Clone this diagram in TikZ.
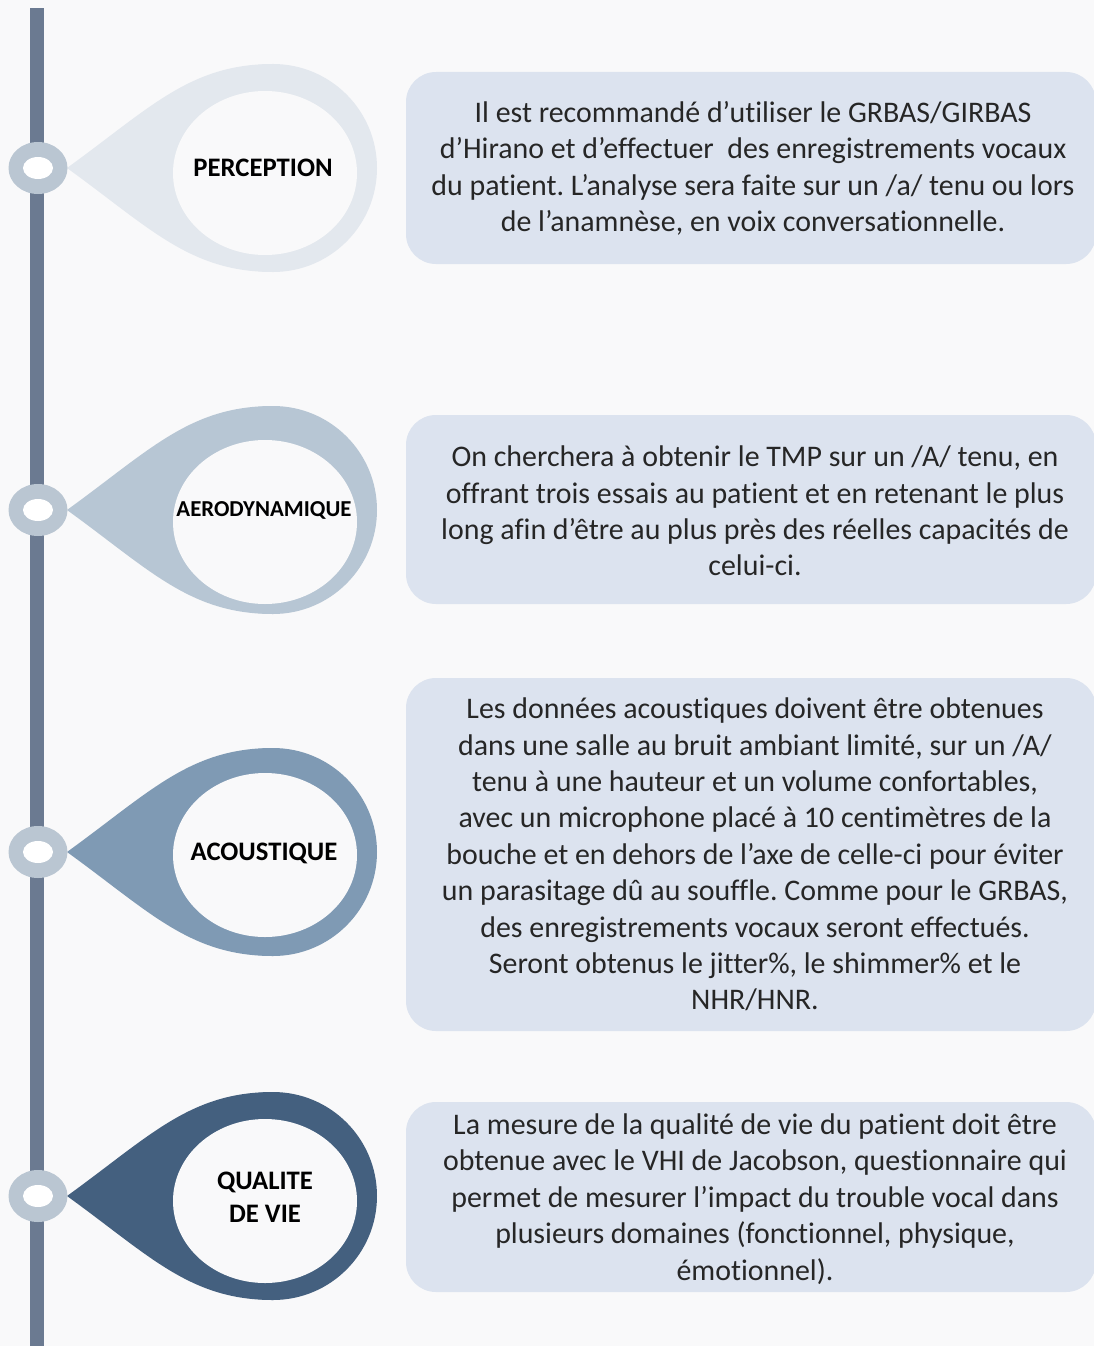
\documentclass[tikz,border=0pt]{standalone}
\usepackage{fontspec}
\setmainfont{Carlito}[Ligatures={NoCommon}]
\definecolor{bgc}{HTML}{F9F9FA}
\definecolor{linec}{HTML}{6B7A91}
\definecolor{ringc}{HTML}{BAC6D2}
\definecolor{tdA}{HTML}{E3E8EE}
\definecolor{tdB}{HTML}{B7C6D4}
\definecolor{tdC}{HTML}{7F9AB4}
\definecolor{tdD}{HTML}{44607F}
\definecolor{boxc}{HTML}{DCE3EF}
\definecolor{txtc}{HTML}{262626}
\newcommand{\mytear}[3]{%
  \fill[#2] (273,#1) circle[radius=104];
  \fill[#2] (67,#1) .. controls (150,{#1-60}) and (190,{#1-104}) .. (273,{#1-104})
     -- (273,{#1+104}) .. controls (190,{#1+104}) and (150,{#1+60}) .. (67,#1) -- cycle;
  \fill[bgc] (265,{#1+#3}) ellipse[x radius=92, y radius=82];
  \fill[ringc] (38,#1) ellipse[x radius=29.5, y radius=26];
  \fill[white] (38,#1) ellipse[x radius=15, y radius=11];
}
\begin{document}
\begin{tikzpicture}[x=1pt,y=-1pt,
  infobox/.style={fill=boxc, rounded corners=30pt},
  bodytext/.style={font=\fontsize{29.9}{36.4}\selectfont\frenchspacing, align=center, text=txtc, inner sep=0pt},
  steplabel/.style={font=\fontsize{26.7}{32.6}\selectfont\bfseries, align=center, text=black, inner sep=0pt}]
\useasboundingbox (0,0) rectangle (1094,1346);
\fill[bgc] (0,0) rectangle (1094,1346);
% timeline
\fill[linec] (30,8) rectangle (44,1346);
% teardrops and rings
\mytear{168}{tdA}{5}
\mytear{510}{tdB}{12}
\mytear{852}{tdC}{3}
\mytear{1196}{tdD}{5}
% labels
\node[steplabel] (l1) at (263,168) {PERCEPTION};
\node[steplabel, font=\fontsize{22.8}{28}\selectfont\bfseries] (l2) at (264,510) {AERODYNAMIQUE};
\node[steplabel] (l3) at (264,853) {ACOUSTIQUE};
\node[steplabel] (l4) at (265,1197) {QUALITE\\DE VIE};
% boxes
\fill[infobox] (406,72) rectangle (1096,264);
\fill[infobox] (406,415) rectangle (1096,604);
\fill[infobox] (406,678) rectangle (1096,1031);
\fill[infobox] (406,1102) rectangle (1096,1292);
\node[bodytext] (t1) at (753,168.5) {Il est recommandé d’utiliser le GRBAS/GIRBAS\\ d’Hirano et d’effectuer\ \ des enregistrements vocaux\\ du patient. L’analyse sera faite sur un /a/ tenu ou lors\\ de l’anamnèse, en voix conversationnelle.};
\node[bodytext] (t2) at (755,511) {On cherchera à obtenir le TMP sur un /A/ tenu, en\\ offrant trois essais au patient et en retenant le plus\\ long afin d’être au plus près des réelles capacités de\\ celui-ci.};
\node[bodytext] (t3) at (755,854.5) {Les données acoustiques doivent être obtenues\\ dans une salle au bruit ambiant limité, sur un /A/\\ tenu à une hauteur et un volume confortables,\\ avec un microphone placé à 10 centimètres de la\\ bouche et en dehors de l’axe de celle-ci pour éviter\\ un parasitage dû au souffle. Comme pour le GRBAS,\\ des enregistrements vocaux seront effectués.\\ Seront obtenus le jitter\%, le shimmer\% et le\\ NHR/HNR.};
\node[bodytext] (t4) at (755,1199) {La mesure de la qualité de vie du patient doit être\\ obtenue avec le VHI de Jacobson, questionnaire qui\\ permet de mesurer l’impact du trouble vocal dans\\ plusieurs domaines (fonctionnel, physique,\\ émotionnel).};
\end{tikzpicture}
\end{document}
